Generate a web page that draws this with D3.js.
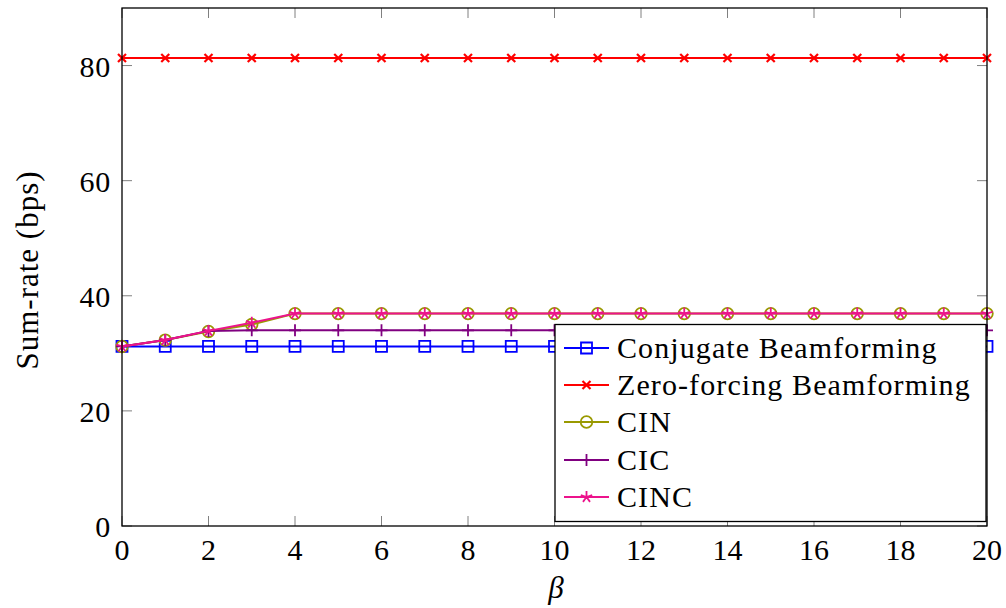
<!DOCTYPE html>
<html>
<head>
<meta charset="utf-8">
<script src="https://cdn.jsdelivr.net/npm/d3@7"></script>
<style>
  html, body { margin: 0; padding: 0; background: #fff; }
</style>
</head>
<body>
<svg id="chart" width="1006" height="608"></svg>
<script>
// beta sweep 0..20
const betas = [0, 1, 2, 3, 4, 5, 6, 7, 8, 9, 10, 11, 12, 13, 14, 15, 16, 17, 18, 19, 20];
const conjugate = [31.2, 31.2, 31.2, 31.2, 31.2, 31.2, 31.2, 31.2, 31.2, 31.2, 31.2, 31.2, 31.2, 31.2, 31.2, 31.2, 31.2, 31.2, 31.2, 31.2, 31.2];
const zeroForcing = [81.3, 81.3, 81.3, 81.3, 81.3, 81.3, 81.3, 81.3, 81.3, 81.3, 81.3, 81.3, 81.3, 81.3, 81.3, 81.3, 81.3, 81.3, 81.3, 81.3, 81.3];
const cin = [31.2, 32.3, 33.8, 35.0, 36.9, 36.9, 36.9, 36.9, 36.9, 36.9, 36.9, 36.9, 36.9, 36.9, 36.9, 36.9, 36.9, 36.9, 36.9, 36.9, 36.9];
const cic = [31.2, 32.3, 33.9, 34.0, 34.0, 34.0, 34.0, 34.0, 34.0, 34.0, 34.0, 34.0, 34.0, 34.0, 34.0, 34.0, 34.0, 34.0, 34.0, 34.0, 34.0];
const cinc = [31.2, 32.3, 33.9, 35.3, 36.9, 36.9, 36.9, 36.9, 36.9, 36.9, 36.9, 36.9, 36.9, 36.9, 36.9, 36.9, 36.9, 36.9, 36.9, 36.9, 36.9];
const xTicks = [0, 2, 4, 6, 8, 10, 12, 14, 16, 18, 20];
const yTicks = [0, 20, 40, 60, 80];

const series = [
  { name: "Conjugate Beamforming", values: conjugate, color: "#0000ff", marker: "square" },
  { name: "Zero-forcing Beamforming", values: zeroForcing, color: "#ff0000", marker: "cross" },
  { name: "CIN", values: cin, color: "#999900", marker: "circle" },
  { name: "CIC", values: cic, color: "#800080", marker: "plus" },
  { name: "CINC", values: cinc, color: "#ec138c", marker: "star" },
];

const FONT = "'Liberation Serif', monospace";
const svg = d3.select("#chart");
const L = 122, R = 987, T = 8, B = 526;

const x = d3.scaleLinear().domain([0, 20]).range([L, R]);
const y = d3.scaleLinear().domain([0, 90]).range([B, T]);

// markers drawn around (0,0)
function markerPath(kind) {
  const p = d3.path();
  if (kind === "square") {
    p.rect(-5.5, -5.5, 11, 11);
  } else if (kind === "cross") {
    p.moveTo(-4, -4); p.lineTo(4, 4); p.moveTo(-4, 4); p.lineTo(4, -4);
  } else if (kind === "circle") {
    p.arc(0, 0, 5.8, 0, 2 * Math.PI);
  } else if (kind === "plus") {
    p.moveTo(-6, 0); p.lineTo(6, 0); p.moveTo(0, -6); p.lineTo(0, 6);
  } else if (kind === "star") {
    for (let i = 0; i < 5; i++) {
      const a = -Math.PI / 2 + i * 2 * Math.PI / 5;
      p.moveTo(0, 0); p.lineTo(6 * Math.cos(a), 6 * Math.sin(a));
    }
  }
  return p.toString();
}

function drawMarker(g, s, cx, cy) {
  g.append("path")
    .attr("transform", `translate(${cx},${cy})`)
    .attr("d", markerPath(s.marker))
    .attr("fill", "none")
    .attr("stroke", s.color)
    .attr("stroke-width", s.marker === "cross" ? 2.2 : 1.8);
}

// ticks (inside, all four sides)
const tk = svg.append("g").attr("stroke", "#808080").attr("stroke-width", 1);
xTicks.forEach((v) => {
  tk.append("line").attr("x1", x(v)).attr("x2", x(v)).attr("y1", B).attr("y2", B - 10);
  tk.append("line").attr("x1", x(v)).attr("x2", x(v)).attr("y1", T).attr("y2", T + 10);
});
yTicks.forEach((v) => {
  tk.append("line").attr("x1", L).attr("x2", L + 10).attr("y1", y(v)).attr("y2", y(v));
  tk.append("line").attr("x1", R).attr("x2", R - 10).attr("y1", y(v)).attr("y2", y(v));
});

// series
const line = d3.line().x((d, i) => x(betas[i])).y((d) => y(d));
series.forEach((s) => {
  const g = svg.append("g");
  g.append("path").datum(s.values)
    .attr("d", line)
    .attr("fill", "none")
    .attr("stroke", s.color)
    .attr("stroke-width", 2);
  s.values.forEach((v, i) => drawMarker(g, s, x(betas[i]), y(v)));
});

// frame
svg.append("rect")
  .attr("x", L).attr("y", T).attr("width", R - L).attr("height", B - T)
  .attr("fill", "none").attr("stroke", "#000").attr("stroke-width", 1.3);

// tick labels
svg.append("g").selectAll("text").data(xTicks).join("text")
  .attr("font-family", FONT)
  .attr("x", (d) => x(d)).attr("y", 560)
  .attr("text-anchor", "middle").attr("font-size", 30)
  .text((d) => d);
svg.append("g").selectAll("text").data(yTicks).join("text")
  .attr("font-family", FONT)
  .attr("x", 111).attr("y", (d) => y(d) + 11)
  .attr("text-anchor", "end").attr("font-size", 30).attr("letter-spacing", 0.8)
  .text((d) => d);

// axis labels
svg.append("text")
  .attr("font-family", FONT)
  .attr("transform", "translate(38,270) rotate(-90)")
  .attr("text-anchor", "middle").attr("font-size", 31).attr("letter-spacing", 1)
  .text("Sum-rate (bps)");
svg.append("text")
  .attr("font-family", FONT)
  .attr("x", 556).attr("y", 598)
  .attr("text-anchor", "middle").attr("font-size", 31).attr("font-style", "italic")
  .text("β");

// legend
const lg = svg.append("g");
lg.append("rect")
  .attr("x", 555).attr("y", 324.5).attr("width", 431).attr("height", 197)
  .attr("fill", "#fff").attr("stroke", "#000").attr("stroke-width", 1.3);
const rowY = [348, 385, 422, 460, 497];
series.forEach((s, i) => {
  const cy = rowY[i];
  lg.append("line").attr("x1", 564).attr("x2", 609).attr("y1", cy).attr("y2", cy)
    .attr("stroke", s.color).attr("stroke-width", 2);
  drawMarker(lg, s, 586.5, cy);
  lg.append("text")
    .attr("font-family", FONT)
    .attr("x", 617).attr("y", cy + 10)
    .attr("font-size", 30).attr("letter-spacing", 1.1)
    .text(s.name);
});
</script>
</body>
</html>
